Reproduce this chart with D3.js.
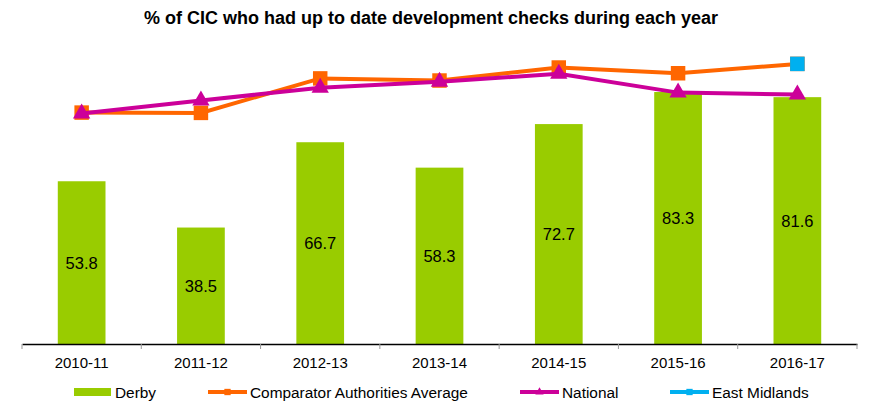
<!DOCTYPE html>
<html>
<head>
<meta charset="utf-8">
<script src="https://cdn.jsdelivr.net/npm/d3@7"></script>
<style>
  body { margin: 0; background: #fff; }
  svg { font-family: "Liberation Sans", Arial, sans-serif; }
</style>
</head>
<body>
<svg id="chart" width="871" height="401"></svg>
<script>
// data
var years = ['2010-11', '2011-12', '2012-13', '2013-14', '2014-15', '2015-16', '2016-17'];
var derby = [53.8, 38.5, 66.7, 58.3, 72.7, 83.3, 81.6];
var comparator = [76.5, 76.4, 87.8, 87.1, 91.4, 89.5, 92.6];
var national = [76.2, 80.5, 84.7, 86.7, 89.3, 83.1, 82.5];
var eastMidlands = [null, null, null, null, null, null, 92.6];

var green = '#99cc00', orange = '#ff6600', magenta = '#cc0099', blue = '#00b0f0';

var svg = d3.select('#chart');

var x = d3.scaleBand()
    .domain(years)
    .range([22, 857]);

var y = d3.scaleLinear()
    .domain([0, 100])
    .range([344, 41.5]);

var cx = function (d, i) { return x(years[i]) + x.bandwidth() / 2; };

// title
svg.append('text')
    .attr('x', 431)
    .attr('y', 24)
    .attr('text-anchor', 'middle')
    .style('font-size', '18px')
    .style('font-weight', 'bold')
    .text('% of CIC who had up to date development checks during each year');

// bars
var barW = x.bandwidth() * 0.4;
svg.selectAll('rect.bar')
    .data(derby)
    .enter()
    .append('rect')
    .attr('class', 'bar')
    .attr('x', function (d, i) { return cx(d, i) - barW / 2; })
    .attr('y', function (d) { return y(d); })
    .attr('width', barW)
    .attr('height', function (d) { return y(0) - y(d); })
    .attr('fill', green);

svg.selectAll('text.val')
    .data(derby)
    .enter()
    .append('text')
    .attr('class', 'val')
    .attr('x', cx)
    .attr('y', function (d) { return (y(d) + y(0)) / 2 + 6; })
    .attr('text-anchor', 'middle')
    .style('font-size', '16.5px')
    .text(function (d) { return d.toFixed(1); });

// axis
var xAxis = d3.axisBottom(x).tickSize(0).tickPadding(10);
var gx = svg.append('g')
    .attr('transform', 'translate(0,' + y(0) + ')')
    .call(xAxis);
gx.select('.domain').attr('stroke', '#000').attr('stroke-width', 1.3);
gx.selectAll('.tick text').style('font-size', '15px').attr('fill', '#000').attr('dy', '0.95em');
gx.selectAll('line.sep')
    .data(years.concat(['end']))
    .enter()
    .append('line')
    .attr('class', 'sep')
    .attr('x1', function (d, i) { return 22 + i * x.bandwidth(); })
    .attr('x2', function (d, i) { return 22 + i * x.bandwidth(); })
    .attr('y1', 0)
    .attr('y2', 5)
    .attr('stroke', '#999');

// lines
function drawSeries(vals, color, shape, size) {
    var pts = vals.map(function (v, i) { return { v: v, i: i }; })
        .filter(function (p) { return p.v != null; });
    var line = d3.line()
        .x(function (p) { return cx(p.v, p.i); })
        .y(function (p) { return y(p.v); });
    if (pts.length > 1) {
        svg.append('path')
            .datum(pts)
            .attr('d', line)
            .attr('fill', 'none')
            .attr('stroke', color)
            .attr('stroke-width', 4);
    }
    svg.selectAll(null)
        .data(pts)
        .enter()
        .append('path')
        .attr('d', d3.symbol().type(shape).size(size))
        .attr('transform', function (p) { return 'translate(' + cx(p.v, p.i) + ',' + y(p.v) + ')'; })
        .attr('fill', color);
}

drawSeries(comparator, orange, d3.symbolSquare, 210);
drawSeries(national, magenta, d3.symbolTriangle, 130);
drawSeries(eastMidlands, blue, d3.symbolSquare, 210);

// legend
var ly = 392;
svg.append('rect')
    .attr('x', 74).attr('y', ly - 4).attr('width', 37).attr('height', 8)
    .attr('fill', green);
svg.append('text').attr('x', 115).attr('y', ly + 5.5)
    .style('font-size', '15.4px').text('Derby');

var legendLines = [
    { x: 208, color: orange, shape: d3.symbolSquare, size: 40, label: 'Comparator Authorities Average' },
    { x: 520, color: magenta, shape: d3.symbolTriangle, size: 30, label: 'National' },
    { x: 670, color: blue, shape: d3.symbolSquare, size: 40, label: 'East Midlands' }
];
legendLines.forEach(function (l) {
    svg.append('line')
        .attr('x1', l.x).attr('x2', l.x + 39)
        .attr('y1', ly).attr('y2', ly)
        .attr('stroke', l.color).attr('stroke-width', 4);
    svg.append('path')
        .attr('d', d3.symbol().type(l.shape).size(l.size))
        .attr('transform', 'translate(' + (l.x + 19.5) + ',' + ly + ')')
        .attr('fill', l.color);
    svg.append('text').attr('x', l.x + 42).attr('y', ly + 5.5)
        .style('font-size', '15.4px').text(l.label);
});
</script>
</body>
</html>
